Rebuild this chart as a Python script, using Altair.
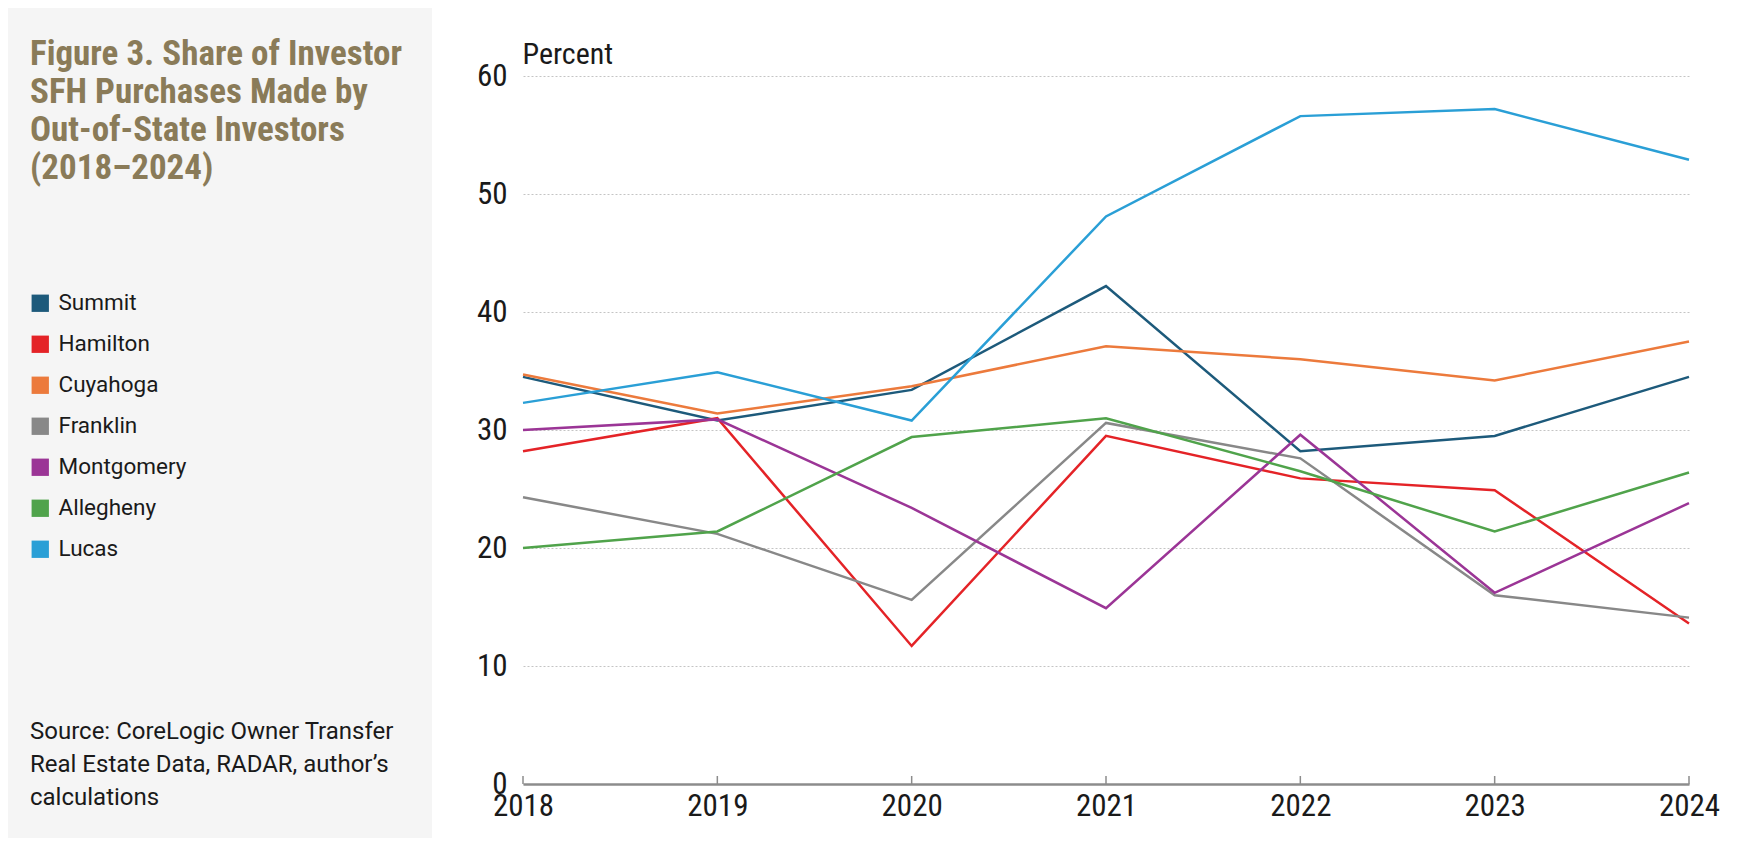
import altair as alt
import pandas as pd

# values (percent of investor SFH purchases by out-of-state investors)
years = [2018, 2019, 2020, 2021, 2022, 2023, 2024]
counties = ["Summit", "Hamilton", "Cuyahoga", "Franklin", "Montgomery", "Allegheny", "Lucas"]
colors = ["#1d5a7b", "#e42327", "#ec7a3c", "#888888", "#9b3596", "#50a34b", "#2a9fd6"]

summit = [34.5, 30.8, 33.4, 42.2, 28.2, 29.5, 34.5]
hamilton = [28.2, 31.0, 11.7, 29.5, 25.9, 24.9, 13.6]
cuyahoga = [34.7, 31.4, 33.7, 37.1, 36.0, 34.2, 37.5]
franklin = [24.3, 21.2, 15.6, 30.6, 27.6, 16.0, 14.1]
montgomery = [30.0, 30.9, 23.4, 14.9, 29.6, 16.2, 23.8]
allegheny = [20.0, 21.4, 29.4, 31.0, 26.5, 21.4, 26.4]
lucas = [32.3, 34.9, 30.8, 48.1, 56.6, 57.2, 52.9]

y_ticks = [0, 10, 20, 30, 40, 50, 60]

title_lines = ["Figure 3. Share of Investor", "SFH Purchases Made by",
               "Out-of-State Investors", "(2018\u20132024)"]
source_lines = ["Source: CoreLogic Owner Transfer", "Real Estate Data, RADAR, author\u2019s",
                "calculations"]

series = [summit, hamilton, cuyahoga, franklin, montgomery, allegheny, lucas]
df = pd.DataFrame(
    [(c, y, v) for c, vals in zip(counties, series) for y, v in zip(years, vals)],
    columns=["county", "year", "value"],
)
years_df = pd.DataFrame({"year": years})
one = pd.DataFrame({"k": [0]})

NARROW = "Roboto Condensed, Liberation Sans Narrow, DejaVu Sans Condensed, sans-serif"
W, H = 1166, 708
PAD_L, PAD_T = 515, 68

x_enc = alt.X("year:Q", scale=alt.Scale(domain=[2018, 2024], nice=False),
              axis=alt.Axis(values=years, format="d", title=None, grid=False, ticks=False,
                            labelFont=NARROW, labelFontSize=31, labelColor="#1a1a1a",
                            labelFlush=False, labelOverlap=False, labelPadding=7,
                            domainColor="#8c8c8c", domainWidth=2.5))
y_enc = alt.Y("value:Q", scale=alt.Scale(domain=[0, 60], nice=False),
              axis=alt.Axis(values=y_ticks, domain=False, ticks=False, grid=True,
                            gridDash=[2, 2], gridColor="#c4c4c4", gridWidth=1,
                            labelFont=NARROW, labelFontSize=31, labelColor="#1a1a1a",
                            labelPadding=16, title="Percent", titleAngle=0,
                            titleAlign="left", titleBaseline="middle", titleX=-1, titleY=-22,
                            titleFont=NARROW, titleFontSize=30, titleFontWeight="normal",
                            titleColor="#1a1a1a"))
color_scale = alt.Scale(domain=counties, range=colors)

panel = alt.Chart(one).mark_rect(color="#f5f5f5").encode(
    x=alt.value(-PAD_L), x2=alt.value(432 - 8 - PAD_L),
    y=alt.value(-PAD_T), y2=alt.value(H + 60),
)

lines = alt.Chart(df).mark_line(strokeWidth=2.5).encode(
    x=x_enc, y=y_enc,
    color=alt.Color("county:N", scale=color_scale, legend=None),
    detail="county:N",
)

legend_pts = alt.Chart(df).mark_point(shape="square", filled=True, opacity=0).encode(
    x="year:Q", y="value:Q",
    color=alt.Color("county:N", scale=color_scale, sort=counties,
                    legend=alt.Legend(orient="none", legendX=29 - 523, legendY=216,
                                      title=None, symbolType="square", symbolSize=300,
                                      symbolOpacity=1, symbolStrokeWidth=0,
                                      labelFont="Roboto", labelFontSize=22.5,
                                      labelColor="#1a1a1a", labelOffset=7, rowPadding=18)),
)

ticks = alt.Chart(years_df).mark_rule(color="#8c8c8c", strokeWidth=1.5).encode(
    x="year:Q", y=alt.datum(0), y2=alt.value(H - 8),
)

title = alt.Chart(one).mark_text(
    text=title_lines, align="left", baseline="alphabetic", font=NARROW, fontSize=35,
    fontWeight="bold", color="#8a7b58", lineHeight=38,
).encode(x=alt.value(30 - 523), y=alt.value(65 - 76))

source = alt.Chart(one).mark_text(
    text=source_lines, align="left", baseline="alphabetic", font="Roboto", fontSize=24,
    color="#1a1a1a", lineHeight=33,
).encode(x=alt.value(30 - 523), y=alt.value(739 - 76))

chart = alt.layer(panel, lines, legend_pts, ticks, title, source).resolve_legend(
    color="independent"
).properties(
    width=W, height=H,
    autosize=alt.AutoSizeParams(type="none"),
    padding={"left": PAD_L, "top": PAD_T, "right": 40, "bottom": 54},
    background="white",
).configure_view(stroke=None)

chart.save("out.html", embed_options={"renderer": "svg", "actions": False})
